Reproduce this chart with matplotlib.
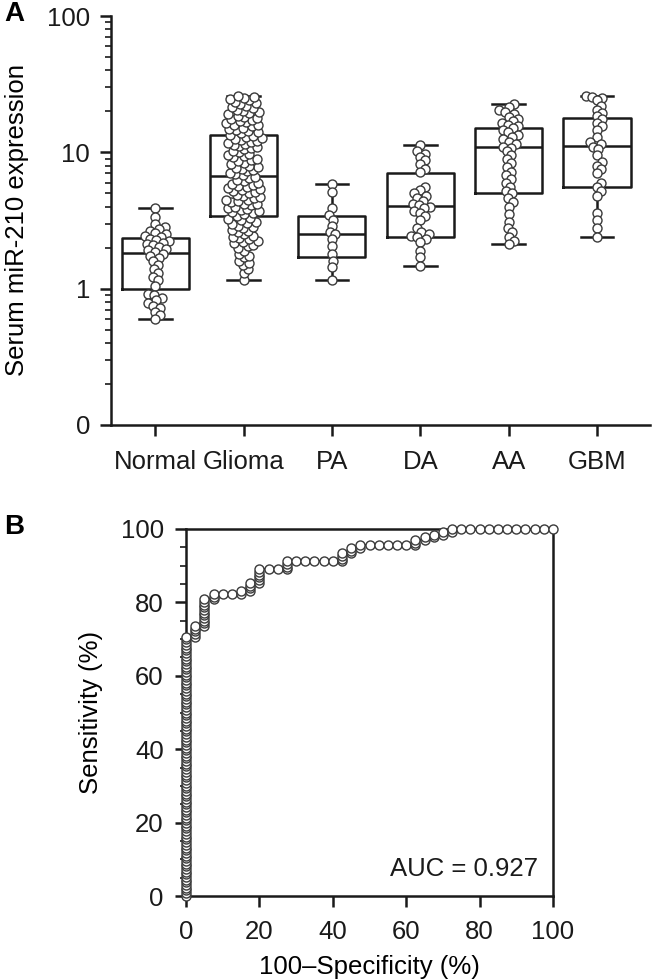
import matplotlib
matplotlib.use('Agg')
import matplotlib.pyplot as plt
import numpy as np
from matplotlib.ticker import FixedLocator, LogLocator, MultipleLocator, NullFormatter

plt.rcParams['font.family'] = ['Liberation Sans', 'DejaVu Sans']

# ---- panel A data ----
groups = ['Normal', 'Glioma', 'PA', 'DA', 'AA', 'GBM']

normal = [3.9, 3.35, 3.0, 2.85, 2.75, 2.65, 2.55, 2.5, 2.45, 2.4,
          2.32, 2.28, 2.22, 2.18, 2.12, 2.08, 2.02, 1.97, 1.92, 1.86,
          1.8, 1.75, 1.68, 1.6, 1.5, 1.4, 1.3, 1.22, 1.15, 1.05,
          0.92, 0.9, 0.85, 0.82, 0.78, 0.75, 0.72, 0.68, 0.64, 0.6]
glioma = [1.16, 1.3, 1.4, 1.5, 1.55, 1.6, 1.7, 1.75, 1.8, 1.9,
          2.0, 2.05, 2.1, 2.15, 2.2, 2.25, 2.3, 2.35, 2.4, 2.45,
          2.5, 2.6, 2.65, 2.7, 2.8, 2.85, 2.9, 3.0, 3.05, 3.1,
          3.2, 3.25, 3.3, 3.4,
          3.5, 3.6, 3.65, 3.7, 3.8, 3.85, 3.9, 4.0, 4.1, 4.15,
          4.2, 4.3, 4.4, 4.45, 4.5, 4.6, 4.7, 4.8, 4.9, 5.0,
          5.1, 5.2, 5.3, 5.4, 5.5, 5.6, 5.7, 5.8, 5.9, 6.0,
          6.15, 6.3, 6.45, 6.6,
          6.8, 6.95, 7.1, 7.25, 7.4, 7.55, 7.7, 7.85, 8.0, 8.2,
          8.4, 8.6, 8.8, 9.0, 9.2, 9.4, 9.6, 9.8, 10.0, 10.2,
          10.5, 10.8, 11.0, 11.2, 11.4, 11.6, 11.8, 12.0, 12.2, 12.4,
          12.6, 12.8, 13.0, 13.2,
          13.5, 13.8, 14.0, 14.3, 14.6, 14.9, 15.2, 15.5, 15.8, 16.0,
          16.3, 16.6, 17.0, 17.3, 17.6, 18.0, 18.3, 18.6, 19.0, 19.4,
          19.8, 20.2, 20.6, 21.0, 21.5, 22.0, 22.5, 23.0, 23.5, 24.0,
          24.5, 25.0, 25.5, 26.0]
pa = [5.86, 5.1, 3.9, 3.45, 3.2, 2.9, 2.6, 2.5, 2.3, 2.05, 1.8, 1.6, 1.45, 1.16]
da = [11.4, 10.2, 9.8, 9.3, 8.8, 8.2, 7.6, 7.2, 5.6, 5.3, 5.0, 4.8, 4.6, 4.4,
      4.2, 4.1, 4.0, 3.9, 3.7, 3.6, 3.4, 3.2, 2.8, 2.6, 2.5, 2.45, 2.4, 2.3,
      2.2, 1.9, 1.7, 1.47]
aa = [22.6, 21.5, 20.5, 19.8, 19.0, 18.3, 17.6, 17.0, 16.5, 16.0, 15.5, 15.0,
      14.5, 14.0, 13.5, 13.0, 12.5, 12.0, 11.5, 11.0, 10.8, 10.2, 9.6, 9.0,
      8.4, 7.8, 7.2, 6.8, 6.4, 6.0, 5.6, 5.2, 5.0, 4.6, 4.3, 4.0, 3.5, 3.1,
      2.8, 2.6, 2.4, 2.25, 2.13]
gbm = [26.0, 25.5, 25.0, 24.0, 22.0, 20.5, 19.5, 18.5, 17.5, 16.5, 15.5, 14.5,
       13.0, 12.0, 11.5, 11.0, 10.5, 9.5, 8.5, 8.0, 7.5, 7.0, 6.0, 5.6, 5.2,
       4.8, 3.6, 3.2, 2.8, 2.41]
group_values = [normal, glioma, pa, da, aa, gbm]

# box summary (min-max whiskers)
box_min = [0.60, 1.16, 1.16, 1.47, 2.13, 2.41]
box_q1 = [1.00, 3.44, 1.71, 2.39, 5.00, 5.55]
box_med = [1.83, 6.70, 2.53, 4.07, 10.9, 11.2]
box_q3 = [2.36, 13.3, 3.40, 7.10, 15.0, 17.8]
box_max = [3.92, 25.9, 5.86, 11.4, 22.6, 26.0]

# ---- panel B data (ROC, in %) ----
roc_zero_tpr = [0.0, 0.7, 1.5, 2.2, 2.9, 3.7, 4.4, 5.1, 5.9, 6.6, 7.4, 8.1,
                8.8, 9.6, 10.3, 11.0, 11.8, 12.5, 13.2, 14.0, 14.7, 15.4,
                16.2, 16.9, 17.6, 18.4, 19.1, 19.9, 20.6, 21.3, 22.1, 22.8,
                23.5, 24.3, 25.0, 25.7, 26.5, 27.2, 27.9, 28.7, 29.4, 30.1,
                30.9, 31.6, 32.4, 33.1, 33.8, 34.6, 35.3, 36.0, 36.8, 37.5,
                38.2, 39.0, 39.7, 40.4, 41.2, 41.9, 42.6, 43.4, 44.1, 44.9,
                45.6, 46.3, 47.1, 47.8, 48.5, 49.3, 50.0, 50.7, 51.5, 52.2,
                52.9, 53.7, 54.4, 55.1, 55.9, 56.6, 57.4, 58.1, 58.8, 59.6,
                60.3, 61.0, 61.8, 62.5, 63.2, 64.0, 64.7, 65.4, 66.2, 66.9,
                67.6, 68.4, 69.1, 69.9, 70.6]
roc_fpr = [2.5, 2.5, 2.5, 2.5, 2.5,
           5, 5, 5, 5, 5, 5, 5, 5, 5, 5, 5,
           7.5, 7.5, 7.5,
           10, 12.5, 15, 15, 17.5, 17.5, 17.5, 17.5,
           20, 20, 20, 20, 20, 20,
           22.5, 25, 27.5, 27.5, 27.5, 27.5,
           30, 32.5, 35, 37.5, 40, 42.5, 42.5, 42.5, 42.5,
           45, 45, 45, 47.5, 47.5,
           50, 52.5, 55, 57.5, 60, 62.5, 62.5, 62.5,
           65, 65, 67.5, 67.5, 70, 70, 72.5, 72.5,
           75, 77.5, 80, 82.5, 85, 87.5, 90, 92.5, 95, 97.5, 100]
roc_tpr = [70.6, 71.3, 72.1, 72.8, 73.5,
           73.5, 74.3, 75.0, 75.7, 76.5, 77.2, 77.9, 78.7, 79.4, 80.1, 80.9,
           80.9, 81.6, 82.4,
           82.4, 82.4, 82.4, 83.1, 83.1, 83.8, 84.6, 85.3,
           85.3, 86.0, 86.8, 87.5, 88.2, 89.0,
           89.0, 89.0, 89.0, 89.7, 90.4, 91.2,
           91.2, 91.2, 91.2, 91.2, 91.2, 91.2, 91.9, 92.6, 93.4,
           93.4, 94.1, 94.9, 94.9, 95.6,
           95.6, 95.6, 95.6, 95.6, 95.6, 95.6, 96.3, 97.1,
           97.1, 97.8, 97.8, 98.5, 98.5, 99.3, 99.3, 100,
           100, 100, 100, 100, 100, 100, 100, 100, 100, 100, 100]
auc_text = 'AUC = 0.927'

INK = '#1a1a1a'
PT_EDGE = '#3a3a3a'
FS = 18.5


def swarm_offsets(ax, xpos, vals, gap_px):
    # simple beeswarm: place points (low to high) nearest to the centre line
    pts = ax.transData.transform(np.column_stack([np.full(len(vals), xpos), vals]))
    ys = pts[:, 1]
    offs = np.zeros(len(vals))
    placed = []
    for i in np.argsort(ys):
        y = ys[i]
        cands = [0.0]
        for px, py in placed:
            dy = y - py
            if abs(dy) < gap_px:
                dx = np.sqrt(gap_px ** 2 - dy ** 2)
                cands += [px + dx, px - dx]
        cands.sort(key=abs)
        for c in cands:
            if all((c - px) ** 2 + (y - py) ** 2 >= gap_px ** 2 - 1e-6 for px, py in placed):
                offs[i] = c
                break
        placed.append((offs[i], y))
    x0 = ax.transData.transform((xpos, 1))[0]
    x1 = ax.transData.transform((xpos + 1, 1))[0]
    return offs / (x1 - x0)


fig = plt.figure(figsize=(6.52, 9.8), dpi=100)

# ---------------- panel A ----------------
axA = fig.add_axes([111 / 652, 1 - 425 / 980, 539 / 652, 409 / 980])
axA.set_yscale('log')
axA.set_ylim(0.1, 100)
axA.set_xlim(-0.5, 5.6)

stats = []
for i in range(len(groups)):
    stats.append(dict(med=box_med[i], q1=box_q1[i], q3=box_q3[i],
                      whislo=box_min[i], whishi=box_max[i], fliers=[]))
lp = dict(color=INK, linewidth=1.8)
axA.bxp(stats, positions=range(len(groups)), widths=0.76, capwidths=0.37,
        showfliers=False, boxprops=lp, whiskerprops=lp, capprops=lp,
        medianprops=lp, zorder=1)

for i, vals in enumerate(group_values):
    offs = swarm_offsets(axA, i, vals, 6.0)
    axA.scatter(i + offs, vals, s=42, facecolor='white', edgecolor=PT_EDGE,
                linewidth=1.0, zorder=3)

axA.yaxis.set_major_locator(FixedLocator([0.1, 1, 10, 100]))
axA.set_yticklabels(['0', '1', '10', '100'])
axA.yaxis.set_minor_locator(LogLocator(base=10, subs=np.arange(2, 10)))
axA.yaxis.set_minor_formatter(NullFormatter())
axA.set_xticks(range(len(groups)))
axA.set_xticklabels(groups)
axA.set_ylabel('Serum miR-210 expression', fontsize=FS, labelpad=13)

for s in ['top', 'right']:
    axA.spines[s].set_visible(False)
for s in ['left', 'bottom']:
    axA.spines[s].set_linewidth(1.8)
    axA.spines[s].set_color(INK)
axA.tick_params(which='major', direction='out', length=8, width=1.8,
                labelsize=FS, colors=INK)
axA.tick_params(axis='y', which='major', pad=7)
axA.tick_params(axis='x', which='major', pad=10)
axA.tick_params(which='minor', direction='out', length=4, width=1.2, colors=INK)
fig.text(4 / 652, 1 - 14 / 980, 'A', fontsize=20, fontweight='bold',
         va='center', ha='left')

# ---------------- panel B ----------------
axB = fig.add_axes([186 / 652, 1 - 896 / 980, 367 / 652, 367 / 980])
fpr_all = [0.0] * len(roc_zero_tpr) + roc_fpr
tpr_all = roc_zero_tpr + roc_tpr
axB.plot(fpr_all, tpr_all, color=INK, linewidth=1.6, marker='o',
         markersize=6.5, markerfacecolor='white', markeredgecolor=PT_EDGE,
         markeredgewidth=1.0, clip_on=False, zorder=3)
axB.set_xlim(0, 100)
axB.set_ylim(0, 100)
axB.set_xticks([0, 20, 40, 60, 80, 100])
axB.set_yticks([0, 20, 40, 60, 80, 100])
axB.yaxis.set_minor_locator(MultipleLocator(5))
axB.set_xlabel('100\u2013Specificity (%)', fontsize=FS, labelpad=8)
axB.set_ylabel('Sensitivity (%)', fontsize=FS, labelpad=13)
for s in axB.spines.values():
    s.set_linewidth(1.8)
    s.set_color(INK)
axB.tick_params(which='major', direction='out', length=8, width=1.8,
                labelsize=FS, colors=INK)
axB.tick_params(axis='y', which='major', pad=8)
axB.tick_params(axis='x', which='major', pad=9)
axB.tick_params(which='minor', direction='out', length=4, width=1.2, colors=INK)
axB.text(96, 5.5, auc_text, fontsize=FS, ha='right', va='baseline', color=INK)
fig.text(4 / 652, 1 - 527 / 980, 'B', fontsize=20, fontweight='bold',
         va='center', ha='left')

fig.savefig('out.png', dpi=100)
